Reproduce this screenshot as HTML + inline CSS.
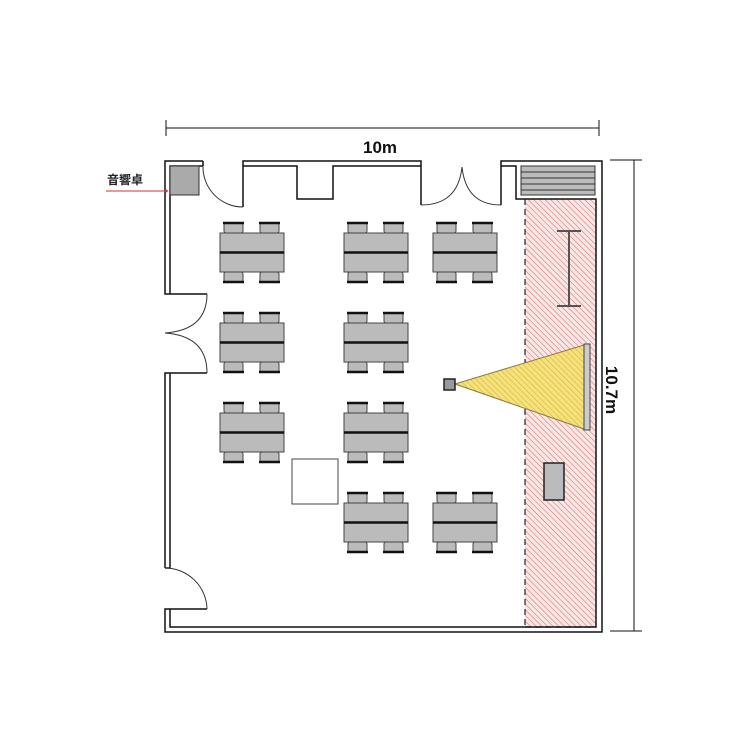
<!DOCTYPE html>
<html><head><meta charset="utf-8"><style>html,body{margin:0;padding:0;background:#fff}svg{display:block}</style></head>
<body>
<svg width="750" height="750" viewBox="0 0 750 750" xmlns="http://www.w3.org/2000/svg">
<defs>
<pattern id="h" width="4" height="4" patternUnits="userSpaceOnUse" patternTransform="rotate(-45)">
<rect width="4" height="4" fill="#fbe6e6"/>
<line x1="0" y1="0" x2="0" y2="4" stroke="#d06868" stroke-width="1"/>
</pattern>
<pattern id="hy" width="4" height="4" patternUnits="userSpaceOnUse" patternTransform="rotate(-45)">
<rect width="4" height="4" fill="#f7e27a"/>
<line x1="0" y1="0" x2="0" y2="4" stroke="#c9a845" stroke-width="1"/>
</pattern>
<g id="t">
<rect x="4" y="-10" width="19" height="10" rx="2" fill="#bbb" stroke="#444" stroke-width="1"/>
<rect x="40" y="-10" width="19" height="10" rx="2" fill="#bbb" stroke="#444" stroke-width="1"/>
<line x1="3" y1="-10" x2="24" y2="-10" stroke="#111" stroke-width="2.5"/>
<line x1="39" y1="-10" x2="60" y2="-10" stroke="#111" stroke-width="2.5"/>
<rect x="4" y="39" width="19" height="10" rx="2" fill="#bbb" stroke="#444" stroke-width="1"/>
<rect x="40" y="39" width="19" height="10" rx="2" fill="#bbb" stroke="#444" stroke-width="1"/>
<line x1="3" y1="49" x2="24" y2="49" stroke="#111" stroke-width="2.5"/>
<line x1="39" y1="49" x2="60" y2="49" stroke="#111" stroke-width="2.5"/>
<rect x="0" y="0" width="64" height="39" fill="#bbb" stroke="#444" stroke-width="1"/>
<line x1="0" y1="19.5" x2="64" y2="19.5" stroke="#111" stroke-width="2.5"/>
</g>
</defs>

<rect x="525" y="199" width="71" height="428" fill="url(#h)"/>
<line x1="525" y1="199" x2="525" y2="627" stroke="#222" stroke-width="1.2" stroke-dasharray="6,4"/>
<line x1="525" y1="627" x2="596" y2="627" stroke="#222" stroke-width="1.2" stroke-dasharray="6,4"/>

<g fill="none" stroke="#111" stroke-width="1.5">
<polyline points="203,161 165,161 165,294 207,294"/>
<polyline points="203,166 170,166 170,294"/>
<line x1="203" y1="161" x2="203" y2="166"/>
<polyline points="243,207 243,161 421,161 421,205"/>
<polyline points="243,166 297,166 297,199 333,199 333,166 421,166"/>
<polyline points="501,205 501,161 602,161 602,632 165,632 165,609 207,609"/>
<polyline points="501,166 516,166 516,199 596,199 596,627 170,627 170,609"/>
<polyline points="207,373 165,373 165,568"/>
<polyline points="170,373 170,568 165,568"/>
</g>
<g fill="none" stroke="#333" stroke-width="1">
<path d="M203,166 A40,40 0 0 0 243,207"/>
<path d="M421,205 Q458,205 462,167"/>
<path d="M501,205 Q466,205 462,167"/>
<path d="M207,294 Q207,330 165,333"/>
<path d="M207,373 Q207,336 165,333"/>
<path d="M165,568 A42,42 0 0 1 207,609"/>
</g>

<rect x="521" y="166" width="74" height="29" fill="#bbb" stroke="#333"/>
<g stroke="#333"><line x1="521" y1="172" x2="595" y2="172"/><line x1="521" y1="178" x2="595" y2="178"/><line x1="521" y1="184" x2="595" y2="184"/><line x1="521" y1="190" x2="595" y2="190"/></g>

<rect x="170" y="166" width="29" height="29" fill="#aaa" stroke="#333"/>
<text x="107" y="184" font-family="'Liberation Sans','Noto Sans CJK JP',sans-serif" font-size="12" font-weight="bold" fill="#222">音響卓</text>
<line x1="106" y1="191" x2="168" y2="191" stroke="#c33" stroke-width="1"/>
<circle cx="166" cy="191" r="1.5" fill="#c33"/>

<use href="#t" x="220" y="233"/><use href="#t" x="344" y="233"/><use href="#t" x="433" y="233"/>
<use href="#t" x="220" y="323"/><use href="#t" x="344" y="323"/>
<use href="#t" x="220" y="413"/><use href="#t" x="344" y="413"/>
<use href="#t" x="344" y="503"/><use href="#t" x="433" y="503"/>

<rect x="292" y="459" width="46" height="45" fill="#fff" stroke="#444"/>

<g stroke="#555" stroke-width="2"><line x1="569" y1="231" x2="569" y2="306"/><line x1="557" y1="231" x2="581" y2="231"/><line x1="557" y1="306" x2="581" y2="306"/></g>

<polygon points="455,384 584,345 584,429" fill="url(#hy)" stroke="#8a7a40" stroke-width="1"/>
<rect x="584" y="344" width="6" height="86" fill="#ccc" stroke="#444"/>
<rect x="444" y="379" width="11" height="11" fill="#999" stroke="#222" stroke-width="1.5"/>

<rect x="544" y="463" width="20" height="37" fill="#bbb" stroke="#222" stroke-width="1.5"/>

<g stroke="#111" stroke-width="1">
<line x1="166" y1="128" x2="599" y2="128"/><line x1="166" y1="120" x2="166" y2="136"/><line x1="599" y1="120" x2="599" y2="136"/>
<line x1="634" y1="160" x2="634" y2="631"/><line x1="610" y1="160" x2="642" y2="160"/><line x1="610" y1="631" x2="642" y2="631"/>
</g>
<text x="380" y="153" text-anchor="middle" font-family="'Liberation Sans',sans-serif" font-size="17" font-weight="bold" fill="#111">10m</text>
<text transform="translate(606,390) rotate(90)" text-anchor="middle" font-family="'Liberation Sans',sans-serif" font-size="17" font-weight="bold" fill="#111">10.7m</text>
</svg>
</body></html>
